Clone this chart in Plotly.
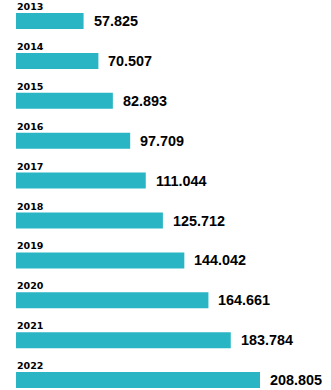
import plotly.graph_objects as go

# Yearly totals
years = ["2013", "2014", "2015", "2016", "2017", "2018", "2019", "2020", "2021", "2022"]
values = [57.825, 70.507, 82.893, 97.709, 111.044, 125.712, 144.042, 164.661, 183.784, 208.805]
value_labels = [f"{v:.3f}" for v in values]

BAR_COLOR = "#2AB5C4"
W, H = 331, 390

positions = list(range(len(years)))

fig = go.Figure(
    go.Bar(
        x=values,
        y=positions,
        orientation="h",
        width=0.40,
        marker=dict(color=BAR_COLOR, line=dict(width=0)),
        hoverinfo="skip",
    )
)

annotations = []
for i, (yr, v, lab) in enumerate(zip(years, values, value_labels)):
    # year caption above each bar
    annotations.append(dict(
        x=0, y=i - 0.363, xref="x", yref="y",
        text=yr, showarrow=False, xanchor="left", yanchor="middle",
        xshift=-1,
        font=dict(family="DejaVu Sans", size=9.5, color="#000000", weight="bold"),
    ))
    # value label to the right of each bar
    annotations.append(dict(
        x=v, y=i, xref="x", yref="y",
        text=lab, showarrow=False, xanchor="left", yanchor="middle",
        xshift=8, yshift=0,
        font=dict(family="Liberation Sans", size=14.4, color="#000000", weight="bold"),
    ))

px_per_unit = 244 / 208.805
fig.update_layout(
    width=W, height=H,
    margin=dict(l=0, r=0, t=0, b=0),
    paper_bgcolor="#FFFFFF",
    plot_bgcolor="#FFFFFF",
    showlegend=False,
    annotations=annotations,
    xaxis=dict(
        range=[-16 / px_per_unit, (W - 16) / px_per_unit],
        visible=False, fixedrange=True,
    ),
    yaxis=dict(
        range=[(H - 21) / 39.9, -21 / 39.9],
        visible=False, fixedrange=True,
    ),
)

fig.write_html("out.html", config={"displayModeBar": False})
